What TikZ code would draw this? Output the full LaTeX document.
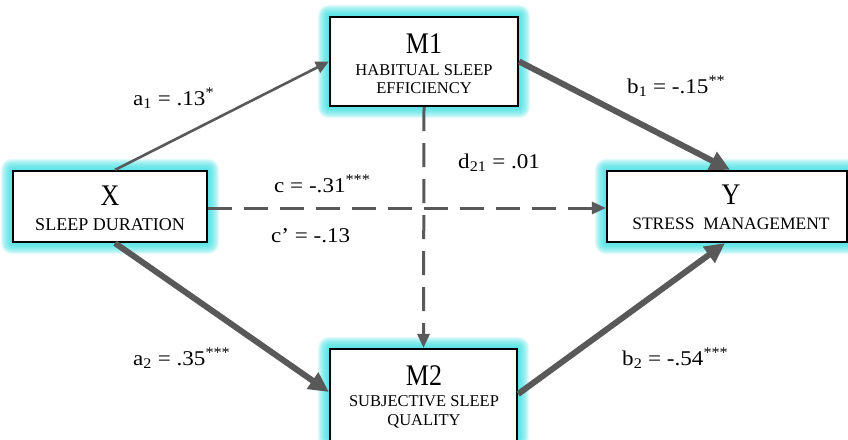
\documentclass[tikz,border=0pt]{standalone}
\usepackage{fontspec}
\setmainfont{Liberation Serif}
\usetikzlibrary{arrows.meta}
\definecolor{linegray}{RGB}{89,89,89}
\definecolor{glowc}{RGB}{55,225,228}
\pgfdeclarelayer{bg}
\pgfsetlayers{bg,main}
\newcommand\hstretch[1]{\scalebox{1.1}[1]{#1}}
\newcommand\vstretch[1]{\scalebox{1}[1.15]{#1}}
\tikzset{
  box/.style={draw=black, line width=2.2pt, fill=white, inner sep=0pt},
  ttl/.style={anchor=base, inner sep=0pt, font=\fontsize{26}{28}\selectfont},
  sub/.style={anchor=base, inner sep=0pt, font=\fontsize{16.5}{18}\selectfont},
  lbl/.style={anchor=base west, inner sep=0pt, font=\fontsize{21}{23}\selectfont},
  thinarrow/.style={draw=linegray, line width=2.6pt, -{Triangle[length=13pt,width=12pt]}},
  thickarrow/.style={draw=linegray, line width=6pt, -{Triangle[length=20pt,width=19pt]}},
  dasharrow/.style={draw=linegray, line width=3pt, dash pattern=on 24pt off 12pt, -{Triangle[length=14pt,width=12pt]}},
}
\newcommand\glowit[1]{%
  \begin{pgfonlayer}{bg}
  \foreach \k in {1,...,11} {
    \fill[glowc, opacity=0.13, rounded corners=\k pt]
      ([xshift=-\k pt, yshift=\k pt]#1.north west) rectangle ([xshift=\k pt, yshift=-\k pt]#1.south east);
  }
  \end{pgfonlayer}}
\begin{document}
\begin{tikzpicture}[x=1pt, y=-1pt]
\useasboundingbox (0,0) rectangle (848,439);
\begin{pgfonlayer}{bg}
\fill[white] (0,0) rectangle (848,439);
\end{pgfonlayer}

% boxes
\node[box, minimum width=194pt, minimum height=71pt] (X) at (110,206.5) {};
\node[box, minimum width=188pt, minimum height=89pt] (M1) at (424,61.5) {};
\node[box, minimum width=187pt, minimum height=92pt] (M2) at (423.5,395) {};
\node[box, minimum width=240pt, minimum height=71pt] (Y) at (727,206.5) {};
\glowit{X}\glowit{M1}\glowit{M2}\glowit{Y}

% box texts
\node[ttl] (xt) at (110,205) {\vstretch{X}};
\node[sub, font=\fontsize{18}{20}\selectfont] (xs) at (110,230) {SLEEP DURATION};
\node[ttl] (m1t) at (424,53) {\vstretch{M1}};
\node[sub] (m1s) at (424,75) {HABITUAL SLEEP};
\node[sub] (m1u) at (424,93) {EFFICIENCY};
\node[ttl] (m2t) at (424,385) {\vstretch{M2}};
\node[sub] (m2s) at (424,406) {SUBJECTIVE SLEEP};
\node[sub] (m2u) at (424,425) {QUALITY};
\node[ttl] (yt) at (731,204) {\vstretch{Y}};
\node[sub, font=\fontsize{17.5}{19}\selectfont] (ys) at (731,229) {STRESS\ \ MANAGEMENT};

% connectors
\draw[thinarrow] ([xshift=5pt]X.north) -- (M1.west);
\draw[thickarrow] ([xshift=5pt]X.south) -- ([yshift=3pt]M2.west);
\draw[thickarrow] (M1.east) -- ([xshift=3pt]Y.north);
\draw[thickarrow] ([yshift=1pt]M2.east) -- ([xshift=-2pt]Y.south);
\draw[dasharrow] ([yshift=-1.5pt]X.east) -- ([yshift=-1.5pt]Y.west);
\draw[dasharrow] (M1.south) -- (M2.north);

% labels
\node[lbl] (la1) at (133,105) {\hstretch{a\textsubscript{1} = .13\textsuperscript{*}}};
\node[lbl] (la2) at (133,365) {\hstretch{a\textsubscript{2} = .35\textsuperscript{***}}};
\node[lbl] (lb1) at (627,93) {\hstretch{b\textsubscript{1} = -.15\textsuperscript{**}}};
\node[lbl] (lb2) at (622,365) {\hstretch{b\textsubscript{2} = -.54\textsuperscript{***}}};
\node[lbl] (lc) at (274,192) {\hstretch{c = -.31\textsuperscript{***}}};
\node[lbl] (lcp) at (271,242) {\hstretch{c’ = -.13}};
\node[lbl] (ld) at (458,168) {\hstretch{d\textsubscript{21} = .01}};
\end{tikzpicture}
\end{document}
